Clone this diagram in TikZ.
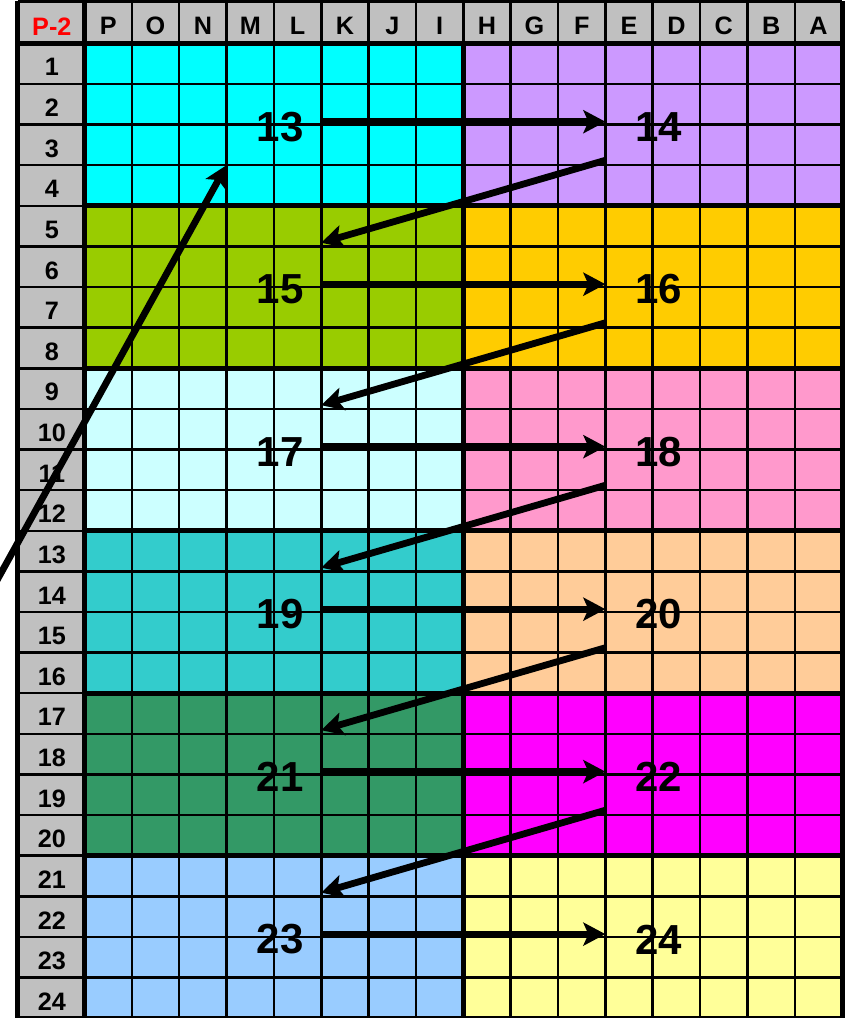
\documentclass[tikz,border=0pt]{standalone}
\usepackage{fontspec}
\setmainfont{Liberation Sans}
\usepackage{xcolor}
\usetikzlibrary{arrows.meta}
\definecolor{shGray}{HTML}{C0C0C0}
\definecolor{shRed}{HTML}{FF0000}
\definecolor{shCyan}{HTML}{00FFFF}
\definecolor{shLavender}{HTML}{CC99FF}
\definecolor{shLime}{HTML}{99CC00}
\definecolor{shGold}{HTML}{FFCC00}
\definecolor{shIce}{HTML}{CCFFFF}
\definecolor{shRose}{HTML}{FF99CC}
\definecolor{shTeal}{HTML}{33CCCC}
\definecolor{shTan}{HTML}{FFCC99}
\definecolor{shSea}{HTML}{339966}
\definecolor{shMagenta}{HTML}{FF00FF}
\definecolor{shSky}{HTML}{99CCFF}
\definecolor{shLemon}{HTML}{FFFF99}
\tikzset{
  grid thin/.style={draw=black,line width=1.25pt},
  grid thick/.style={draw=black,line width=2.5pt},
  head text/.style={font=\fontsize{12.6}{12.6}\selectfont\bfseries,inner sep=0pt},
  block label/.style={font=\fontsize{21}{21}\selectfont\bfseries,inner sep=0pt},
  jump arrow/.style={-{Stealth[length=11pt,width=11.5pt,inset=2.5pt]},line width=3.4pt,draw=black}
}

\begin{document}
\begin{tikzpicture}[x=23.675pt,y=-20.31pt]
\useasboundingbox (-1.785,-1.066) rectangle (16.061,23.995);
% sheet background
\fill[shGray] (-1.415,-1.03) rectangle (16,0);
\fill[shGray] (-1.415,0) rectangle (0,24);
\foreach \clr [count=\i from 0] in {shCyan,shLavender,shLime,shGold,shIce,shRose,shTeal,shTan,shSea,shMagenta,shSky,shLemon}{
  \pgfmathtruncatemacro\bx{mod(\i,2)*8}
  \pgfmathtruncatemacro\by{div(\i,2)*4}
  \fill[\clr] (\bx,\by) rectangle ++(8,4);
}
% grid
\foreach \c in {1,...,15} \draw[grid thin] (\c,-1.03) -- (\c,24);
\foreach \r in {1,...,23} \draw[grid thin] (-1.415,\r) -- (16,\r);
\foreach \r in {4,8,...,20} \draw[grid thick] (0,\r) -- (16,\r);
\draw[grid thick] (8,0) -- (8,24);
\draw[grid thick] (-1.415,0) -- (16,0);
\draw[grid thick] (0,-1.03) -- (0,24);
\draw[grid thin] (-1.415,-1.03) -- (16,-1.03);
\draw[grid thick] (-1.415,-1.03) -- (-1.415,24) -- (16,24) -- (16,-1.03);
% headings
\node[head text,text=shRed] (corner) at (-0.69,-0.42) {P-2};
\foreach \l [count=\c from 0] in {P,O,N,M,L,K,J,I,H,G,F,E,D,C,B,A}
  \node[head text] (col\l) at (\c+0.5,-0.42) {\l};
\foreach \r in {1,...,24}
  \node[head text] (row\r) at (-0.69,\r-0.41) {\r};
% blocks
\foreach \k in {0,...,5}{
  \pgfmathtruncatemacro\lf{13+2*\k}
  \pgfmathtruncatemacro\rt{14+2*\k}
  \node[block label] (b\lf) at (4.13,4*\k+2.06) {\lf};
  \node[block label] (b\rt) at (12.13,4*\k+2.06) {\rt};
  \coordinate (b\lf-out) at (5,4*\k+1.93);
  \coordinate (b\rt-in) at (11,4*\k+1.93);
  \coordinate (b\rt-out) at (11,4*\k+2.88);
  \coordinate (b\lf-in) at (5,4*\k+0.91);
}
\coordinate (b13-in) at (3,3);
\coordinate (wrap) at (-2.024,13.59);
% reading order
\foreach \a/\b in {13/14,15/16,17/18,19/20,21/22,23/24}
  \draw[jump arrow] (b\a-out) -- (b\b-in);
\foreach \a/\b in {14/15,16/17,18/19,20/21,22/23}
  \draw[jump arrow] (b\a-out) -- (b\b-in);
\draw[jump arrow] (wrap) -- (b13-in);
\end{tikzpicture}
\end{document}
